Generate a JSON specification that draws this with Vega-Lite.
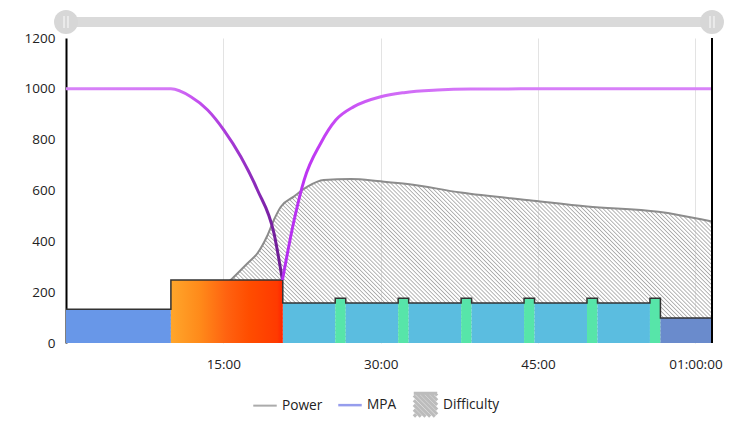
{
  "$schema": "https://vega.github.io/schema/vega-lite/v6.json",
  "padding": {"top": 8, "left": 24, "right": 8, "bottom": 4},
  "spacing": 2,
  "bounds": "flush",
  "resolve": {"scale": {"x": "independent", "y": "independent"}},
  "datasets": {
    "window": [{"from": 0, "to": 3695}],
    "blocks": [
      {"idx": 1, "start": 0, "end": 600, "value": 133, "zone": "Z2"},
      {"idx": 2, "start": 600, "end": 1240, "value": 248, "zone": "Z6"},
      {"idx": 3, "start": 1240, "end": 1540, "value": 157, "zone": "Z3"},
      {"idx": 4, "start": 1540, "end": 1600, "value": 176, "zone": "Z4"},
      {"idx": 5, "start": 1600, "end": 1900, "value": 157, "zone": "Z3"},
      {"idx": 6, "start": 1900, "end": 1960, "value": 176, "zone": "Z4"},
      {"idx": 7, "start": 1960, "end": 2260, "value": 157, "zone": "Z3"},
      {"idx": 8, "start": 2260, "end": 2320, "value": 176, "zone": "Z4"},
      {"idx": 9, "start": 2320, "end": 2620, "value": 157, "zone": "Z3"},
      {"idx": 10, "start": 2620, "end": 2680, "value": 176, "zone": "Z4"},
      {"idx": 11, "start": 2680, "end": 2980, "value": 157, "zone": "Z3"},
      {"idx": 12, "start": 2980, "end": 3040, "value": 176, "zone": "Z4"},
      {"idx": 13, "start": 3040, "end": 3340, "value": 157, "zone": "Z3"},
      {"idx": 14, "start": 3340, "end": 3400, "value": 176, "zone": "Z4"},
      {"idx": 15, "start": 3400, "end": 3695, "value": 98, "zone": "Z1"}
    ],
    "power": [
      {"t": 0, "power": 60}, {"t": 300, "power": 80}, {"t": 600, "power": 110},
      {"t": 750, "power": 150}, {"t": 850, "power": 195}, {"t": 953, "power": 255},
      {"t": 1040, "power": 315}, {"t": 1095, "power": 353}, {"t": 1150, "power": 420},
      {"t": 1189, "power": 484}, {"t": 1229, "power": 536}, {"t": 1303, "power": 576},
      {"t": 1381, "power": 615}, {"t": 1474, "power": 641}, {"t": 1629, "power": 645},
      {"t": 1800, "power": 636}, {"t": 1953, "power": 626}, {"t": 2257, "power": 592},
      {"t": 2674, "power": 560}, {"t": 2981, "power": 537}, {"t": 3388, "power": 516},
      {"t": 3495, "power": 505}, {"t": 3695, "power": 478}
    ],
    "mpa": [
      {"t": 0, "mpa": 1000}, {"t": 600, "mpa": 1000}, {"t": 714, "mpa": 969},
      {"t": 810, "mpa": 917}, {"t": 903, "mpa": 838}, {"t": 1000, "mpa": 733},
      {"t": 1095, "mpa": 602}, {"t": 1189, "mpa": 433}, {"t": 1238, "mpa": 248},
      {"t": 1305, "mpa": 484}, {"t": 1362, "mpa": 641}, {"t": 1457, "mpa": 786},
      {"t": 1543, "mpa": 877}, {"t": 1647, "mpa": 930}, {"t": 1800, "mpa": 969},
      {"t": 1933, "mpa": 985}, {"t": 2124, "mpa": 995}, {"t": 2314, "mpa": 999},
      {"t": 2600, "mpa": 1000}, {"t": 3695, "mpa": 1000}
    ]
  },
  "vconcat": [
    {
      "width": 646,
      "height": 28,
      "data": {"name": "window"},
      "layer": [
        {
          "mark": {"type": "rule", "color": "#dadada", "strokeWidth": 10},
          "encoding": {
            "x": {"field": "from", "type": "quantitative", "scale": {"domain": [0, 3695], "nice": false, "zero": false}, "axis": null},
            "x2": {"field": "to"},
            "y": {"datum": "s", "type": "nominal", "axis": null}
          }
        },
        {
          "transform": [{"fold": ["from", "to"], "as": ["k", "t"]}],
          "mark": {"type": "point", "filled": true, "shape": "circle", "size": 573, "color": "#d7d7d7", "opacity": 1},
          "encoding": {
            "x": {"field": "t", "type": "quantitative"},
            "y": {"datum": "s", "type": "nominal"}
          }
        },
        {
          "transform": [{"fold": ["from", "to"], "as": ["k", "t"]}],
          "mark": {"type": "point", "filled": false, "shape": "M-0.33,-1V1M0.33,-1V1", "size": 144, "color": "#f4f4f4", "strokeWidth": 1.3, "opacity": 1},
          "encoding": {
            "x": {"field": "t", "type": "quantitative"},
            "y": {"datum": "s", "type": "nominal"}
          }
        }
      ]
    },
    {
      "width": 646,
      "height": 305,
      "layer": [
        {
          "data": {"name": "power"},
          "mark": {
            "type": "area",
            "interpolate": "monotone",
            "fill": {
              "gradient": "linear", "x1": 0, "y1": 1, "x2": 1.18, "y2": 0.7,
              "stops": [
{"offset":0.001,"color":"#aaa0"},{"offset":0.0025,"color":"#aaa"},{"offset":0.004,"color":"#aaa0"},{"offset":0.006,"color":"#aaa0"},{"offset":0.0075,"color":"#aaa"},{"offset":0.009,"color":"#aaa0"},
{"offset":0.011,"color":"#aaa0"},{"offset":0.0125,"color":"#aaa"},{"offset":0.014,"color":"#aaa0"},{"offset":0.016,"color":"#aaa0"},{"offset":0.0175,"color":"#aaa"},{"offset":0.019,"color":"#aaa0"},
{"offset":0.021,"color":"#aaa0"},{"offset":0.0225,"color":"#aaa"},{"offset":0.024,"color":"#aaa0"},{"offset":0.026,"color":"#aaa0"},{"offset":0.0275,"color":"#aaa"},{"offset":0.029,"color":"#aaa0"},
{"offset":0.031,"color":"#aaa0"},{"offset":0.0325,"color":"#aaa"},{"offset":0.034,"color":"#aaa0"},{"offset":0.036,"color":"#aaa0"},{"offset":0.0375,"color":"#aaa"},{"offset":0.039,"color":"#aaa0"},
{"offset":0.041,"color":"#aaa0"},{"offset":0.0425,"color":"#aaa"},{"offset":0.044,"color":"#aaa0"},{"offset":0.046,"color":"#aaa0"},{"offset":0.0475,"color":"#aaa"},{"offset":0.049,"color":"#aaa0"},
{"offset":0.051,"color":"#aaa0"},{"offset":0.0525,"color":"#aaa"},{"offset":0.054,"color":"#aaa0"},{"offset":0.056,"color":"#aaa0"},{"offset":0.0575,"color":"#aaa"},{"offset":0.059,"color":"#aaa0"},
{"offset":0.061,"color":"#aaa0"},{"offset":0.0625,"color":"#aaa"},{"offset":0.064,"color":"#aaa0"},{"offset":0.066,"color":"#aaa0"},{"offset":0.0675,"color":"#aaa"},{"offset":0.069,"color":"#aaa0"},
{"offset":0.071,"color":"#aaa0"},{"offset":0.0725,"color":"#aaa"},{"offset":0.074,"color":"#aaa0"},{"offset":0.076,"color":"#aaa0"},{"offset":0.0775,"color":"#aaa"},{"offset":0.079,"color":"#aaa0"},
{"offset":0.081,"color":"#aaa0"},{"offset":0.0825,"color":"#aaa"},{"offset":0.084,"color":"#aaa0"},{"offset":0.086,"color":"#aaa0"},{"offset":0.0875,"color":"#aaa"},{"offset":0.089,"color":"#aaa0"},
{"offset":0.091,"color":"#aaa0"},{"offset":0.0925,"color":"#aaa"},{"offset":0.094,"color":"#aaa0"},{"offset":0.096,"color":"#aaa0"},{"offset":0.0975,"color":"#aaa"},{"offset":0.099,"color":"#aaa0"},
{"offset":0.101,"color":"#aaa0"},{"offset":0.1025,"color":"#aaa"},{"offset":0.104,"color":"#aaa0"},{"offset":0.106,"color":"#aaa0"},{"offset":0.1075,"color":"#aaa"},{"offset":0.109,"color":"#aaa0"},
{"offset":0.111,"color":"#aaa0"},{"offset":0.1125,"color":"#aaa"},{"offset":0.114,"color":"#aaa0"},{"offset":0.116,"color":"#aaa0"},{"offset":0.1175,"color":"#aaa"},{"offset":0.119,"color":"#aaa0"},
{"offset":0.121,"color":"#aaa0"},{"offset":0.1225,"color":"#aaa"},{"offset":0.124,"color":"#aaa0"},{"offset":0.126,"color":"#aaa0"},{"offset":0.1275,"color":"#aaa"},{"offset":0.129,"color":"#aaa0"},
{"offset":0.131,"color":"#aaa0"},{"offset":0.1325,"color":"#aaa"},{"offset":0.134,"color":"#aaa0"},{"offset":0.136,"color":"#aaa0"},{"offset":0.1375,"color":"#aaa"},{"offset":0.139,"color":"#aaa0"},
{"offset":0.141,"color":"#aaa0"},{"offset":0.1425,"color":"#aaa"},{"offset":0.144,"color":"#aaa0"},{"offset":0.146,"color":"#aaa0"},{"offset":0.1475,"color":"#aaa"},{"offset":0.149,"color":"#aaa0"},
{"offset":0.151,"color":"#aaa0"},{"offset":0.1525,"color":"#aaa"},{"offset":0.154,"color":"#aaa0"},{"offset":0.156,"color":"#aaa0"},{"offset":0.1575,"color":"#aaa"},{"offset":0.159,"color":"#aaa0"},
{"offset":0.161,"color":"#aaa0"},{"offset":0.1625,"color":"#aaa"},{"offset":0.164,"color":"#aaa0"},{"offset":0.166,"color":"#aaa0"},{"offset":0.1675,"color":"#aaa"},{"offset":0.169,"color":"#aaa0"},
{"offset":0.171,"color":"#aaa0"},{"offset":0.1725,"color":"#aaa"},{"offset":0.174,"color":"#aaa0"},{"offset":0.176,"color":"#aaa0"},{"offset":0.1775,"color":"#aaa"},{"offset":0.179,"color":"#aaa0"},
{"offset":0.181,"color":"#aaa0"},{"offset":0.1825,"color":"#aaa"},{"offset":0.184,"color":"#aaa0"},{"offset":0.186,"color":"#aaa0"},{"offset":0.1875,"color":"#aaa"},{"offset":0.189,"color":"#aaa0"},
{"offset":0.191,"color":"#aaa0"},{"offset":0.1925,"color":"#aaa"},{"offset":0.194,"color":"#aaa0"},{"offset":0.196,"color":"#aaa0"},{"offset":0.1975,"color":"#aaa"},{"offset":0.199,"color":"#aaa0"},
{"offset":0.201,"color":"#aaa0"},{"offset":0.2025,"color":"#aaa"},{"offset":0.204,"color":"#aaa0"},{"offset":0.206,"color":"#aaa0"},{"offset":0.2075,"color":"#aaa"},{"offset":0.209,"color":"#aaa0"},
{"offset":0.211,"color":"#aaa0"},{"offset":0.2125,"color":"#aaa"},{"offset":0.214,"color":"#aaa0"},{"offset":0.216,"color":"#aaa0"},{"offset":0.2175,"color":"#aaa"},{"offset":0.219,"color":"#aaa0"},
{"offset":0.221,"color":"#aaa0"},{"offset":0.2225,"color":"#aaa"},{"offset":0.224,"color":"#aaa0"},{"offset":0.226,"color":"#aaa0"},{"offset":0.2275,"color":"#aaa"},{"offset":0.229,"color":"#aaa0"},
{"offset":0.231,"color":"#aaa0"},{"offset":0.2325,"color":"#aaa"},{"offset":0.234,"color":"#aaa0"},{"offset":0.236,"color":"#aaa0"},{"offset":0.2375,"color":"#aaa"},{"offset":0.239,"color":"#aaa0"},
{"offset":0.241,"color":"#aaa0"},{"offset":0.2425,"color":"#aaa"},{"offset":0.244,"color":"#aaa0"},{"offset":0.246,"color":"#aaa0"},{"offset":0.2475,"color":"#aaa"},{"offset":0.249,"color":"#aaa0"},
{"offset":0.251,"color":"#aaa0"},{"offset":0.2525,"color":"#aaa"},{"offset":0.254,"color":"#aaa0"},{"offset":0.256,"color":"#aaa0"},{"offset":0.2575,"color":"#aaa"},{"offset":0.259,"color":"#aaa0"},
{"offset":0.261,"color":"#aaa0"},{"offset":0.2625,"color":"#aaa"},{"offset":0.264,"color":"#aaa0"},{"offset":0.266,"color":"#aaa0"},{"offset":0.2675,"color":"#aaa"},{"offset":0.269,"color":"#aaa0"},
{"offset":0.271,"color":"#aaa0"},{"offset":0.2725,"color":"#aaa"},{"offset":0.274,"color":"#aaa0"},{"offset":0.276,"color":"#aaa0"},{"offset":0.2775,"color":"#aaa"},{"offset":0.279,"color":"#aaa0"},
{"offset":0.281,"color":"#aaa0"},{"offset":0.2825,"color":"#aaa"},{"offset":0.284,"color":"#aaa0"},{"offset":0.286,"color":"#aaa0"},{"offset":0.2875,"color":"#aaa"},{"offset":0.289,"color":"#aaa0"},
{"offset":0.291,"color":"#aaa0"},{"offset":0.2925,"color":"#aaa"},{"offset":0.294,"color":"#aaa0"},{"offset":0.296,"color":"#aaa0"},{"offset":0.2975,"color":"#aaa"},{"offset":0.299,"color":"#aaa0"},
{"offset":0.301,"color":"#aaa0"},{"offset":0.3025,"color":"#aaa"},{"offset":0.304,"color":"#aaa0"},{"offset":0.306,"color":"#aaa0"},{"offset":0.3075,"color":"#aaa"},{"offset":0.309,"color":"#aaa0"},
{"offset":0.311,"color":"#aaa0"},{"offset":0.3125,"color":"#aaa"},{"offset":0.314,"color":"#aaa0"},{"offset":0.316,"color":"#aaa0"},{"offset":0.3175,"color":"#aaa"},{"offset":0.319,"color":"#aaa0"},
{"offset":0.321,"color":"#aaa0"},{"offset":0.3225,"color":"#aaa"},{"offset":0.324,"color":"#aaa0"},{"offset":0.326,"color":"#aaa0"},{"offset":0.3275,"color":"#aaa"},{"offset":0.329,"color":"#aaa0"},
{"offset":0.331,"color":"#aaa0"},{"offset":0.3325,"color":"#aaa"},{"offset":0.334,"color":"#aaa0"},{"offset":0.336,"color":"#aaa0"},{"offset":0.3375,"color":"#aaa"},{"offset":0.339,"color":"#aaa0"},
{"offset":0.341,"color":"#aaa0"},{"offset":0.3425,"color":"#aaa"},{"offset":0.344,"color":"#aaa0"},{"offset":0.346,"color":"#aaa0"},{"offset":0.3475,"color":"#aaa"},{"offset":0.349,"color":"#aaa0"},
{"offset":0.351,"color":"#aaa0"},{"offset":0.3525,"color":"#aaa"},{"offset":0.354,"color":"#aaa0"},{"offset":0.356,"color":"#aaa0"},{"offset":0.3575,"color":"#aaa"},{"offset":0.359,"color":"#aaa0"},
{"offset":0.361,"color":"#aaa0"},{"offset":0.3625,"color":"#aaa"},{"offset":0.364,"color":"#aaa0"},{"offset":0.366,"color":"#aaa0"},{"offset":0.3675,"color":"#aaa"},{"offset":0.369,"color":"#aaa0"},
{"offset":0.371,"color":"#aaa0"},{"offset":0.3725,"color":"#aaa"},{"offset":0.374,"color":"#aaa0"},{"offset":0.376,"color":"#aaa0"},{"offset":0.3775,"color":"#aaa"},{"offset":0.379,"color":"#aaa0"},
{"offset":0.381,"color":"#aaa0"},{"offset":0.3825,"color":"#aaa"},{"offset":0.384,"color":"#aaa0"},{"offset":0.386,"color":"#aaa0"},{"offset":0.3875,"color":"#aaa"},{"offset":0.389,"color":"#aaa0"},
{"offset":0.391,"color":"#aaa0"},{"offset":0.3925,"color":"#aaa"},{"offset":0.394,"color":"#aaa0"},{"offset":0.396,"color":"#aaa0"},{"offset":0.3975,"color":"#aaa"},{"offset":0.399,"color":"#aaa0"},
{"offset":0.401,"color":"#aaa0"},{"offset":0.4025,"color":"#aaa"},{"offset":0.404,"color":"#aaa0"},{"offset":0.406,"color":"#aaa0"},{"offset":0.4075,"color":"#aaa"},{"offset":0.409,"color":"#aaa0"},
{"offset":0.411,"color":"#aaa0"},{"offset":0.4125,"color":"#aaa"},{"offset":0.414,"color":"#aaa0"},{"offset":0.416,"color":"#aaa0"},{"offset":0.4175,"color":"#aaa"},{"offset":0.419,"color":"#aaa0"},
{"offset":0.421,"color":"#aaa0"},{"offset":0.4225,"color":"#aaa"},{"offset":0.424,"color":"#aaa0"},{"offset":0.426,"color":"#aaa0"},{"offset":0.4275,"color":"#aaa"},{"offset":0.429,"color":"#aaa0"},
{"offset":0.431,"color":"#aaa0"},{"offset":0.4325,"color":"#aaa"},{"offset":0.434,"color":"#aaa0"},{"offset":0.436,"color":"#aaa0"},{"offset":0.4375,"color":"#aaa"},{"offset":0.439,"color":"#aaa0"},
{"offset":0.441,"color":"#aaa0"},{"offset":0.4425,"color":"#aaa"},{"offset":0.444,"color":"#aaa0"},{"offset":0.446,"color":"#aaa0"},{"offset":0.4475,"color":"#aaa"},{"offset":0.449,"color":"#aaa0"},
{"offset":0.451,"color":"#aaa0"},{"offset":0.4525,"color":"#aaa"},{"offset":0.454,"color":"#aaa0"},{"offset":0.456,"color":"#aaa0"},{"offset":0.4575,"color":"#aaa"},{"offset":0.459,"color":"#aaa0"},
{"offset":0.461,"color":"#aaa0"},{"offset":0.4625,"color":"#aaa"},{"offset":0.464,"color":"#aaa0"},{"offset":0.466,"color":"#aaa0"},{"offset":0.4675,"color":"#aaa"},{"offset":0.469,"color":"#aaa0"},
{"offset":0.471,"color":"#aaa0"},{"offset":0.4725,"color":"#aaa"},{"offset":0.474,"color":"#aaa0"},{"offset":0.476,"color":"#aaa0"},{"offset":0.4775,"color":"#aaa"},{"offset":0.479,"color":"#aaa0"},
{"offset":0.481,"color":"#aaa0"},{"offset":0.4825,"color":"#aaa"},{"offset":0.484,"color":"#aaa0"},{"offset":0.486,"color":"#aaa0"},{"offset":0.4875,"color":"#aaa"},{"offset":0.489,"color":"#aaa0"},
{"offset":0.491,"color":"#aaa0"},{"offset":0.4925,"color":"#aaa"},{"offset":0.494,"color":"#aaa0"},{"offset":0.496,"color":"#aaa0"},{"offset":0.4975,"color":"#aaa"},{"offset":0.499,"color":"#aaa0"},
{"offset":0.501,"color":"#aaa0"},{"offset":0.5025,"color":"#aaa"},{"offset":0.504,"color":"#aaa0"},{"offset":0.506,"color":"#aaa0"},{"offset":0.5075,"color":"#aaa"},{"offset":0.509,"color":"#aaa0"},
{"offset":0.511,"color":"#aaa0"},{"offset":0.5125,"color":"#aaa"},{"offset":0.514,"color":"#aaa0"},{"offset":0.516,"color":"#aaa0"},{"offset":0.5175,"color":"#aaa"},{"offset":0.519,"color":"#aaa0"},
{"offset":0.521,"color":"#aaa0"},{"offset":0.5225,"color":"#aaa"},{"offset":0.524,"color":"#aaa0"},{"offset":0.526,"color":"#aaa0"},{"offset":0.5275,"color":"#aaa"},{"offset":0.529,"color":"#aaa0"},
{"offset":0.531,"color":"#aaa0"},{"offset":0.5325,"color":"#aaa"},{"offset":0.534,"color":"#aaa0"},{"offset":0.536,"color":"#aaa0"},{"offset":0.5375,"color":"#aaa"},{"offset":0.539,"color":"#aaa0"},
{"offset":0.541,"color":"#aaa0"},{"offset":0.5425,"color":"#aaa"},{"offset":0.544,"color":"#aaa0"},{"offset":0.546,"color":"#aaa0"},{"offset":0.5475,"color":"#aaa"},{"offset":0.549,"color":"#aaa0"},
{"offset":0.551,"color":"#aaa0"},{"offset":0.5525,"color":"#aaa"},{"offset":0.554,"color":"#aaa0"},{"offset":0.556,"color":"#aaa0"},{"offset":0.5575,"color":"#aaa"},{"offset":0.559,"color":"#aaa0"},
{"offset":0.561,"color":"#aaa0"},{"offset":0.5625,"color":"#aaa"},{"offset":0.564,"color":"#aaa0"},{"offset":0.566,"color":"#aaa0"},{"offset":0.5675,"color":"#aaa"},{"offset":0.569,"color":"#aaa0"},
{"offset":0.571,"color":"#aaa0"},{"offset":0.5725,"color":"#aaa"},{"offset":0.574,"color":"#aaa0"},{"offset":0.576,"color":"#aaa0"},{"offset":0.5775,"color":"#aaa"},{"offset":0.579,"color":"#aaa0"},
{"offset":0.581,"color":"#aaa0"},{"offset":0.5825,"color":"#aaa"},{"offset":0.584,"color":"#aaa0"},{"offset":0.586,"color":"#aaa0"},{"offset":0.5875,"color":"#aaa"},{"offset":0.589,"color":"#aaa0"},
{"offset":0.591,"color":"#aaa0"},{"offset":0.5925,"color":"#aaa"},{"offset":0.594,"color":"#aaa0"},{"offset":0.596,"color":"#aaa0"},{"offset":0.5975,"color":"#aaa"},{"offset":0.599,"color":"#aaa0"},
{"offset":0.601,"color":"#aaa0"},{"offset":0.6025,"color":"#aaa"},{"offset":0.604,"color":"#aaa0"},{"offset":0.606,"color":"#aaa0"},{"offset":0.6075,"color":"#aaa"},{"offset":0.609,"color":"#aaa0"},
{"offset":0.611,"color":"#aaa0"},{"offset":0.6125,"color":"#aaa"},{"offset":0.614,"color":"#aaa0"},{"offset":0.616,"color":"#aaa0"},{"offset":0.6175,"color":"#aaa"},{"offset":0.619,"color":"#aaa0"},
{"offset":0.621,"color":"#aaa0"},{"offset":0.6225,"color":"#aaa"},{"offset":0.624,"color":"#aaa0"},{"offset":0.626,"color":"#aaa0"},{"offset":0.6275,"color":"#aaa"},{"offset":0.629,"color":"#aaa0"},
{"offset":0.631,"color":"#aaa0"},{"offset":0.6325,"color":"#aaa"},{"offset":0.634,"color":"#aaa0"},{"offset":0.636,"color":"#aaa0"},{"offset":0.6375,"color":"#aaa"},{"offset":0.639,"color":"#aaa0"},
{"offset":0.641,"color":"#aaa0"},{"offset":0.6425,"color":"#aaa"},{"offset":0.644,"color":"#aaa0"},{"offset":0.646,"color":"#aaa0"},{"offset":0.6475,"color":"#aaa"},{"offset":0.649,"color":"#aaa0"},
{"offset":0.651,"color":"#aaa0"},{"offset":0.6525,"color":"#aaa"},{"offset":0.654,"color":"#aaa0"},{"offset":0.656,"color":"#aaa0"},{"offset":0.6575,"color":"#aaa"},{"offset":0.659,"color":"#aaa0"},
{"offset":0.661,"color":"#aaa0"},{"offset":0.6625,"color":"#aaa"},{"offset":0.664,"color":"#aaa0"},{"offset":0.666,"color":"#aaa0"},{"offset":0.6675,"color":"#aaa"},{"offset":0.669,"color":"#aaa0"},
{"offset":0.671,"color":"#aaa0"},{"offset":0.6725,"color":"#aaa"},{"offset":0.674,"color":"#aaa0"},{"offset":0.676,"color":"#aaa0"},{"offset":0.6775,"color":"#aaa"},{"offset":0.679,"color":"#aaa0"},
{"offset":0.681,"color":"#aaa0"},{"offset":0.6825,"color":"#aaa"},{"offset":0.684,"color":"#aaa0"},{"offset":0.686,"color":"#aaa0"},{"offset":0.6875,"color":"#aaa"},{"offset":0.689,"color":"#aaa0"},
{"offset":0.691,"color":"#aaa0"},{"offset":0.6925,"color":"#aaa"},{"offset":0.694,"color":"#aaa0"},{"offset":0.696,"color":"#aaa0"},{"offset":0.6975,"color":"#aaa"},{"offset":0.699,"color":"#aaa0"},
{"offset":0.701,"color":"#aaa0"},{"offset":0.7025,"color":"#aaa"},{"offset":0.704,"color":"#aaa0"},{"offset":0.706,"color":"#aaa0"},{"offset":0.7075,"color":"#aaa"},{"offset":0.709,"color":"#aaa0"},
{"offset":0.711,"color":"#aaa0"},{"offset":0.7125,"color":"#aaa"},{"offset":0.714,"color":"#aaa0"},{"offset":0.716,"color":"#aaa0"},{"offset":0.7175,"color":"#aaa"},{"offset":0.719,"color":"#aaa0"},
{"offset":0.721,"color":"#aaa0"},{"offset":0.7225,"color":"#aaa"},{"offset":0.724,"color":"#aaa0"},{"offset":0.726,"color":"#aaa0"},{"offset":0.7275,"color":"#aaa"},{"offset":0.729,"color":"#aaa0"},
{"offset":0.731,"color":"#aaa0"},{"offset":0.7325,"color":"#aaa"},{"offset":0.734,"color":"#aaa0"},{"offset":0.736,"color":"#aaa0"},{"offset":0.7375,"color":"#aaa"},{"offset":0.739,"color":"#aaa0"},
{"offset":0.741,"color":"#aaa0"},{"offset":0.7425,"color":"#aaa"},{"offset":0.744,"color":"#aaa0"},{"offset":0.746,"color":"#aaa0"},{"offset":0.7475,"color":"#aaa"},{"offset":0.749,"color":"#aaa0"},
{"offset":0.751,"color":"#aaa0"},{"offset":0.7525,"color":"#aaa"},{"offset":0.754,"color":"#aaa0"},{"offset":0.756,"color":"#aaa0"},{"offset":0.7575,"color":"#aaa"},{"offset":0.759,"color":"#aaa0"},
{"offset":0.761,"color":"#aaa0"},{"offset":0.7625,"color":"#aaa"},{"offset":0.764,"color":"#aaa0"},{"offset":0.766,"color":"#aaa0"},{"offset":0.7675,"color":"#aaa"},{"offset":0.769,"color":"#aaa0"},
{"offset":0.771,"color":"#aaa0"},{"offset":0.7725,"color":"#aaa"},{"offset":0.774,"color":"#aaa0"},{"offset":0.776,"color":"#aaa0"},{"offset":0.7775,"color":"#aaa"},{"offset":0.779,"color":"#aaa0"},
{"offset":0.781,"color":"#aaa0"},{"offset":0.7825,"color":"#aaa"},{"offset":0.784,"color":"#aaa0"},{"offset":0.786,"color":"#aaa0"},{"offset":0.7875,"color":"#aaa"},{"offset":0.789,"color":"#aaa0"},
{"offset":0.791,"color":"#aaa0"},{"offset":0.7925,"color":"#aaa"},{"offset":0.794,"color":"#aaa0"},{"offset":0.796,"color":"#aaa0"},{"offset":0.7975,"color":"#aaa"},{"offset":0.799,"color":"#aaa0"},
{"offset":0.801,"color":"#aaa0"},{"offset":0.8025,"color":"#aaa"},{"offset":0.804,"color":"#aaa0"},{"offset":0.806,"color":"#aaa0"},{"offset":0.8075,"color":"#aaa"},{"offset":0.809,"color":"#aaa0"},
{"offset":0.811,"color":"#aaa0"},{"offset":0.8125,"color":"#aaa"},{"offset":0.814,"color":"#aaa0"},{"offset":0.816,"color":"#aaa0"},{"offset":0.8175,"color":"#aaa"},{"offset":0.819,"color":"#aaa0"},
{"offset":0.821,"color":"#aaa0"},{"offset":0.8225,"color":"#aaa"},{"offset":0.824,"color":"#aaa0"},{"offset":0.826,"color":"#aaa0"},{"offset":0.8275,"color":"#aaa"},{"offset":0.829,"color":"#aaa0"},
{"offset":0.831,"color":"#aaa0"},{"offset":0.8325,"color":"#aaa"},{"offset":0.834,"color":"#aaa0"},{"offset":0.836,"color":"#aaa0"},{"offset":0.8375,"color":"#aaa"},{"offset":0.839,"color":"#aaa0"},
{"offset":0.841,"color":"#aaa0"},{"offset":0.8425,"color":"#aaa"},{"offset":0.844,"color":"#aaa0"},{"offset":0.846,"color":"#aaa0"},{"offset":0.8475,"color":"#aaa"},{"offset":0.849,"color":"#aaa0"},
{"offset":0.851,"color":"#aaa0"},{"offset":0.8525,"color":"#aaa"},{"offset":0.854,"color":"#aaa0"},{"offset":0.856,"color":"#aaa0"},{"offset":0.8575,"color":"#aaa"},{"offset":0.859,"color":"#aaa0"},
{"offset":0.861,"color":"#aaa0"},{"offset":0.8625,"color":"#aaa"},{"offset":0.864,"color":"#aaa0"},{"offset":0.866,"color":"#aaa0"},{"offset":0.8675,"color":"#aaa"},{"offset":0.869,"color":"#aaa0"},
{"offset":0.871,"color":"#aaa0"},{"offset":0.8725,"color":"#aaa"},{"offset":0.874,"color":"#aaa0"},{"offset":0.876,"color":"#aaa0"},{"offset":0.8775,"color":"#aaa"},{"offset":0.879,"color":"#aaa0"},
{"offset":0.881,"color":"#aaa0"},{"offset":0.8825,"color":"#aaa"},{"offset":0.884,"color":"#aaa0"},{"offset":0.886,"color":"#aaa0"},{"offset":0.8875,"color":"#aaa"},{"offset":0.889,"color":"#aaa0"},
{"offset":0.891,"color":"#aaa0"},{"offset":0.8925,"color":"#aaa"},{"offset":0.894,"color":"#aaa0"},{"offset":0.896,"color":"#aaa0"},{"offset":0.8975,"color":"#aaa"},{"offset":0.899,"color":"#aaa0"},
{"offset":0.901,"color":"#aaa0"},{"offset":0.9025,"color":"#aaa"},{"offset":0.904,"color":"#aaa0"},{"offset":0.906,"color":"#aaa0"},{"offset":0.9075,"color":"#aaa"},{"offset":0.909,"color":"#aaa0"},
{"offset":0.911,"color":"#aaa0"},{"offset":0.9125,"color":"#aaa"},{"offset":0.914,"color":"#aaa0"},{"offset":0.916,"color":"#aaa0"},{"offset":0.9175,"color":"#aaa"},{"offset":0.919,"color":"#aaa0"},
{"offset":0.921,"color":"#aaa0"},{"offset":0.9225,"color":"#aaa"},{"offset":0.924,"color":"#aaa0"},{"offset":0.926,"color":"#aaa0"},{"offset":0.9275,"color":"#aaa"},{"offset":0.929,"color":"#aaa0"},
{"offset":0.931,"color":"#aaa0"},{"offset":0.9325,"color":"#aaa"},{"offset":0.934,"color":"#aaa0"},{"offset":0.936,"color":"#aaa0"},{"offset":0.9375,"color":"#aaa"},{"offset":0.939,"color":"#aaa0"},
{"offset":0.941,"color":"#aaa0"},{"offset":0.9425,"color":"#aaa"},{"offset":0.944,"color":"#aaa0"},{"offset":0.946,"color":"#aaa0"},{"offset":0.9475,"color":"#aaa"},{"offset":0.949,"color":"#aaa0"},
{"offset":0.951,"color":"#aaa0"},{"offset":0.9525,"color":"#aaa"},{"offset":0.954,"color":"#aaa0"},{"offset":0.956,"color":"#aaa0"},{"offset":0.9575,"color":"#aaa"},{"offset":0.959,"color":"#aaa0"},
{"offset":0.961,"color":"#aaa0"},{"offset":0.9625,"color":"#aaa"},{"offset":0.964,"color":"#aaa0"},{"offset":0.966,"color":"#aaa0"},{"offset":0.9675,"color":"#aaa"},{"offset":0.969,"color":"#aaa0"},
{"offset":0.971,"color":"#aaa0"},{"offset":0.9725,"color":"#aaa"},{"offset":0.974,"color":"#aaa0"},{"offset":0.976,"color":"#aaa0"},{"offset":0.9775,"color":"#aaa"},{"offset":0.979,"color":"#aaa0"},
{"offset":0.981,"color":"#aaa0"},{"offset":0.9825,"color":"#aaa"},{"offset":0.984,"color":"#aaa0"},{"offset":0.986,"color":"#aaa0"},{"offset":0.9875,"color":"#aaa"},{"offset":0.989,"color":"#aaa0"},
{"offset":0.991,"color":"#aaa0"},{"offset":0.9925,"color":"#aaa"},{"offset":0.994,"color":"#aaa0"},{"offset":0.996,"color":"#aaa0"},{"offset":0.9975,"color":"#aaa"},{"offset":0.999,"color":"#aaa0"}
              ]
            }
          },
          "encoding": {
            "x": {
              "field": "t", "type": "quantitative", "title": null,
              "scale": {"domain": [0, 3695], "nice": false, "zero": false},
              "axis": {
                "values": [900, 1800, 2700, 3600],
                "labelExpr": "utcFormat(datum.value * 1000, datum.value >= 3600 ? '%H:%M:%S' : '%M:%S')",
                "grid": true, "gridColor": "#e3e3e3", "ticks": false, "domain": false,
                "labelPadding": 14, "labelFont": "Open Sans", "labelFontSize": 13.5, "labelColor": "#222"
              }
            },
            "y": {
              "field": "power", "type": "quantitative", "title": null,
              "scale": {"domain": [0, 1200], "nice": false},
              "axis": {
                "values": [0, 200, 400, 600, 800, 1000, 1200], "format": "d",
                "grid": false, "ticks": false, "domainColor": "#000", "domainWidth": 2,
                "labelPadding": 11, "labelFont": "Open Sans", "labelFontSize": 13.5, "labelColor": "#222"
              }
            }
          }
        },
        {
          "data": {"name": "power"},
          "mark": {"type": "line", "interpolate": "monotone", "color": "#8c8c8c", "strokeWidth": 2},
          "encoding": {
            "x": {"field": "t", "type": "quantitative", "title": null},
            "y": {"field": "power", "type": "quantitative", "title": null}
          }
        },
        {
          "data": {"name": "blocks"},
          "transform": [{"filter": "datum.zone != 'Z6'"}],
          "mark": {"type": "rect"},
          "encoding": {
            "x": {"field": "start", "type": "quantitative", "title": null},
            "x2": {"field": "end"},
            "y": {"field": "value", "type": "quantitative", "title": null},
            "y2": {"datum": 0},
            "fill": {
              "field": "zone", "type": "nominal", "legend": null,
              "scale": {"domain": ["Z1", "Z2", "Z3", "Z4"], "range": ["#6a8bcc", "#6897e8", "#5bbde0", "#57e5a9"]}
            }
          }
        },
        {
          "data": {"name": "blocks"},
          "transform": [{"filter": "datum.zone == 'Z6'"}],
          "mark": {
            "type": "rect",
            "fill": {
              "gradient": "linear", "x1": 0, "y1": 0, "x2": 1, "y2": 0,
              "stops": [
                {"offset": 0, "color": "#ffa62b"},
                {"offset": 0.26, "color": "#ff8a1a"},
                {"offset": 0.5, "color": "#ff6210"},
                {"offset": 0.7, "color": "#ff4d00"},
                {"offset": 0.95, "color": "#ff3a00"},
                {"offset": 1, "color": "#ff2400"}
              ]
            }
          },
          "encoding": {
            "x": {"field": "start", "type": "quantitative", "title": null},
            "x2": {"field": "end"},
            "y": {"field": "value", "type": "quantitative", "title": null},
            "y2": {"datum": 0}
          }
        },
        {
          "data": {"name": "blocks"},
          "transform": [{"fold": ["start", "end"], "as": ["k", "t"]}],
          "mark": {"type": "line", "color": "#333", "strokeWidth": 1.5},
          "encoding": {
            "x": {"field": "t", "type": "quantitative", "title": null},
            "y": {"field": "value", "type": "quantitative", "title": null},
            "order": [{"field": "idx", "type": "quantitative"}, {"field": "t", "type": "quantitative"}]
          }
        },
        {
          "data": {"name": "mpa"},
          "transform": [{"filter": "datum.t <= 1238"}],
          "mark": {
            "type": "line", "interpolate": "monotone", "strokeWidth": 3,
            "stroke": {
              "gradient": "linear", "x1": 0, "y1": 0, "x2": 1, "y2": 0,
              "stops": [
                {"offset": 0, "color": "#d783f8"},
                {"offset": 0.485, "color": "#d478f6"},
                {"offset": 0.6, "color": "#c550f0"},
                {"offset": 0.75, "color": "#a83bd8"},
                {"offset": 0.88, "color": "#8a2ab8"},
                {"offset": 1, "color": "#6a1b90"}
              ]
            }
          },
          "encoding": {
            "x": {"field": "t", "type": "quantitative", "title": null},
            "y": {"field": "mpa", "type": "quantitative", "title": null}
          }
        },
        {
          "data": {"name": "mpa"},
          "transform": [{"filter": "datum.t >= 1238"}],
          "mark": {
            "type": "line", "interpolate": "monotone", "strokeWidth": 3,
            "stroke": {
              "gradient": "linear", "x1": 0, "y1": 0, "x2": 1, "y2": 0,
              "stops": [
                {"offset": 0, "color": "#b42cf0"},
                {"offset": 0.05, "color": "#bc34f2"},
                {"offset": 0.12, "color": "#c648f4"},
                {"offset": 0.25, "color": "#d06af6"},
                {"offset": 0.5, "color": "#d67cf8"},
                {"offset": 1, "color": "#d883f8"}
              ]
            }
          },
          "encoding": {
            "x": {"field": "t", "type": "quantitative", "title": null},
            "y": {"field": "mpa", "type": "quantitative", "title": null}
          }
        },
        {
          "data": {"name": "window"},
          "mark": {"type": "rule", "color": "#000", "strokeWidth": 2},
          "encoding": {
            "x": {"field": "to", "type": "quantitative", "title": null}
          }
        },
        {
          "data": {"values": [{"series": "Power"}, {"series": "MPA"}, {"series": "Difficulty"}]},
          "transform": [{"filter": "false"}],
          "mark": {"type": "point", "filled": false},
          "encoding": {
            "stroke": {
              "field": "series", "type": "nominal",
              "scale": {"domain": ["Power", "MPA", "Difficulty"], "range": ["#888888", "#6b74e6", "#a0a0a0"]},
              "legend": {
                "title": null, "orient": "none", "legendX": 186, "legendY": 383, "direction": "horizontal",
                "symbolSize": 550, "symbolOpacity": 1, "labelFont": "Open Sans", "labelFontSize": 13.7,
                "labelColor": "#222", "labelOffset": 4, "columnPadding": 10
              }
            },
            "shape": {
              "field": "series", "type": "nominal",
              "scale": {
                "domain": ["Power", "MPA", "Difficulty"],
                "range": ["M-1,0H1M0,-1L0,-1M0,1L0,1", "M-1,0H1M0,-1L0,-1M0,1L0,1", "M-1,0.8L-0.8,1M-1,0.4L-0.4,1M-1,0L0,1M-1,-0.4L0.4,1M-1,-0.8L0.8,1M-0.8,-1L1,0.8M-0.4,-1L1,0.4M0,-1L1,0M0.4,-1L1,-0.4M0.8,-1L1,-0.8M-1,-1L1,-1"]
              }
            },
            "strokeWidth": {
              "field": "series", "type": "nominal",
              "scale": {"domain": ["Power", "MPA", "Difficulty"], "range": [2, 3, 1]}
            }
          }
        }
      ]
    }
  ],
  "config": {
    "font": "Open Sans",
    "view": {"stroke": null}
  }
}
